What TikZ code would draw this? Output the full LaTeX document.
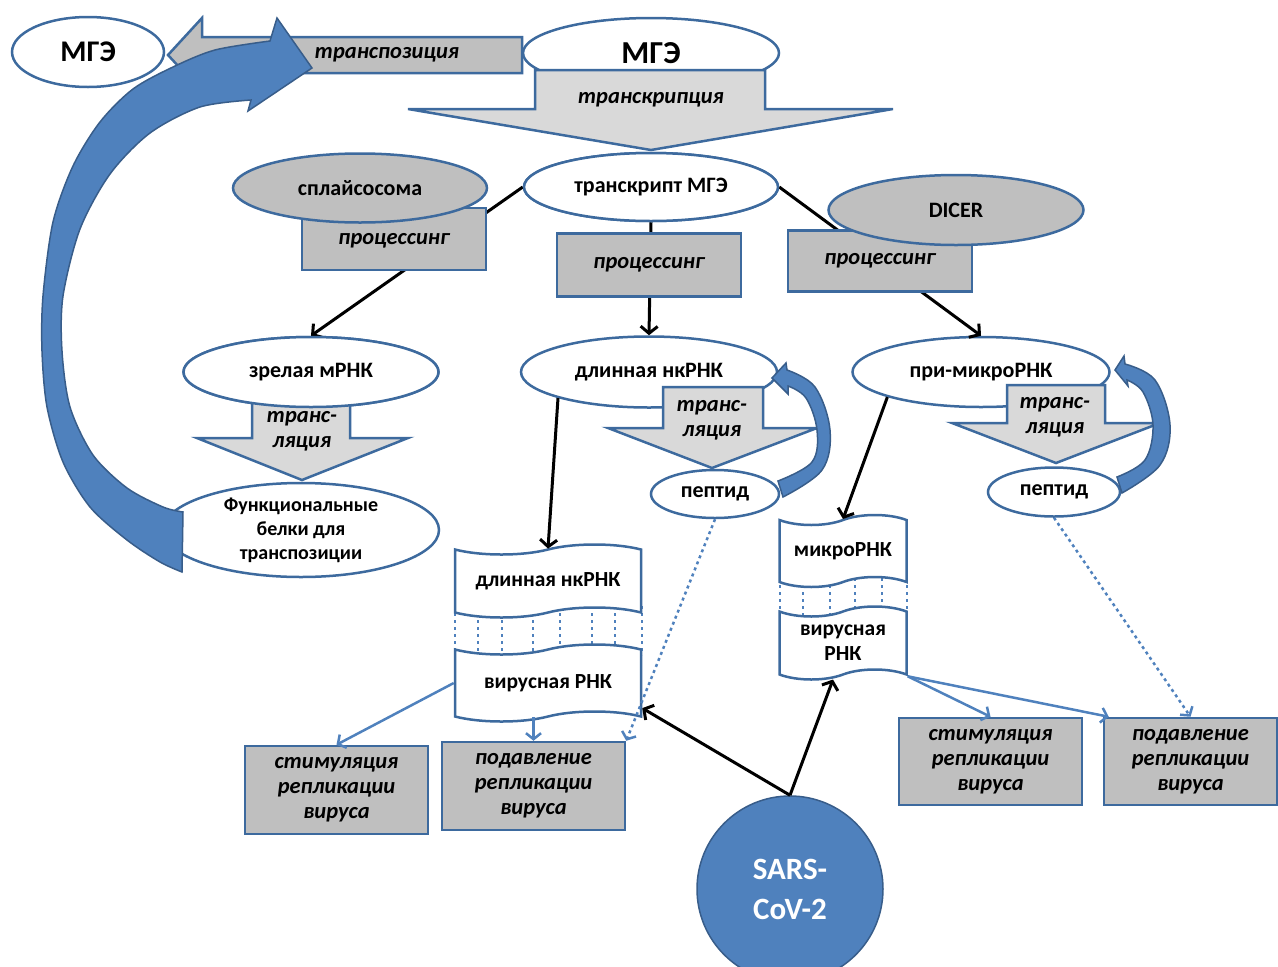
\documentclass[tikz,border=0pt]{standalone}
\usepackage{fontspec}
\setmainfont{Carlito}
\usetikzlibrary{shapes.geometric,shapes.symbols,arrows.meta,calc}
\definecolor{bord}{HTML}{3D6A9E}
\definecolor{bfill}{HTML}{4F81BD}
\definecolor{bdark}{HTML}{385D8A}
\definecolor{gdark}{HTML}{BFBFBF}
\definecolor{glight}{HTML}{D9D9D9}
\tikzset{
 ell/.style={ellipse, draw=bord, line width=2.5pt, fill=white, inner sep=0pt, align=center, font=\bfseries\fontsize{22}{24}\selectfont},
 gell/.style={ell, fill=gdark},
 gbox/.style={rectangle, draw=bord, line width=2.5pt, fill=gdark, inner sep=0pt, align=center, font=\bfseries\itshape\fontsize{22.5}{25}\selectfont},
 lbl/.style={inner sep=0pt, align=center, font=\bfseries\itshape\fontsize{22.5}{25}\selectfont},
 blockarrow/.style={draw=bord, line width=2.5pt, line join=miter},
 tapebox/.style={tape, draw=bord, fill=white, line width=2.5pt, tape bend height=10pt, inner sep=0pt, align=center, font=\bfseries\fontsize{21.5}{25}\selectfont},
 blk/.style={line width=3pt, black, -{Straight Barb[length=7pt,width=17pt]}},
 blu/.style={line width=2.5pt, bfill, -{Straight Barb[length=6pt,width=15pt]}},
 blud/.style={blu, dash pattern=on 3pt off 3.5pt},
 dots/.style={bfill, line width=2.5pt, dash pattern=on 3pt off 4pt},
 curvy/.style={fill=bfill, draw=bdark, line width=1.5pt, line join=miter},
}
\begin{document}
\begin{tikzpicture}[x=1pt,y=-1pt]
\useasboundingbox (0,0) rectangle (1278,967);

% connectors behind everything
\node[ell, minimum width=254pt, minimum height=68pt] (tr) at (651,187) {транскрипт МГЭ};
\node[ell, minimum width=255pt, minimum height=70pt] (zr) at (311,372) {};
\node[ell, minimum width=256pt, minimum height=71pt] (dl) at (649,372) {длинная нкРНК};
\node[ell, minimum width=257pt, minimum height=70pt] (pm) at (981,372) {при-микроРНК};
\draw[blk] (tr.west) -- (zr.north);
\draw[blk] (tr.east) -- (pm.north);
\draw[blk] (tr.south) -- (dl.north);

% processing boxes and enzymes
\node[gbox, minimum width=184pt, minimum height=62pt, text depth=-4pt] (pr1) at (394,239) {процессинг};
\node[gbox, minimum width=184pt, minimum height=63pt] (pr2) at (649,265) {процессинг};
\node[gbox, minimum width=184pt, minimum height=61pt] (pr3) at (880,261) {процессинг};
\node[gell, minimum width=254pt, minimum height=69pt] (spl) at (360,188) {сплайсосома};
\node[gell, minimum width=255pt, minimum height=70pt] (dicer) at (956,210) {DICER};

% top
\node[ell, minimum width=152pt, minimum height=70pt, font=\bfseries\fontsize{30}{32}\selectfont] (mge1) at (88,52) {МГЭ};
\node[ell, minimum width=256pt, minimum height=70pt, font=\bfseries\fontsize{32}{34}\selectfont] (mge2) at (651,53) {\raisebox{-3pt}{МГЭ}};
\draw[blockarrow, fill=gdark] (522,37) -- (202,37) -- (202,18) -- (168,55) -- (202,92) -- (202,73) -- (522,73) -- cycle;
\node[lbl] (tpos) at (387,55) {транспозиция};
\draw[blockarrow, fill=glight] (535,70) -- (765,70) -- (765,109) -- (893,109) -- (651,150) -- (408,109) -- (535,109) -- cycle;
\node[lbl] (tscr) at (651,100) {транскрипция};
\node[ell, minimum width=254pt, minimum height=68pt] at (tr) {транскрипт МГЭ};

% translation arrows
\draw[blockarrow, fill=glight] (252,400) -- (350,400) -- (350,438) -- (408,438) -- (302,480) -- (197,438) -- (252,438) -- cycle;
\node[ell, minimum width=255pt, minimum height=70pt] (zr2) at (zr) {зрелая мРНК};
\node[lbl] (tl1) at (302,431) {транс-\\ляция};
\draw[blockarrow, fill=glight] (663,387) -- (763,387) -- (763,428) -- (817,428) -- (712,468) -- (608,428) -- (663,428) -- cycle;
\node[lbl] (tl2) at (712,420) {транс-\\ляция};
\draw[blockarrow, fill=glight] (1007,385) -- (1105,385) -- (1105,423) -- (1160,423) -- (1056,463) -- (952,423) -- (1007,423) -- cycle;
\node[lbl] (tl3) at (1055,417) {транс-\\ляция};

\node[ell, minimum width=128pt, minimum height=48pt] (p1) at (715,494) {\raisebox{-3pt}{пептид}};
\node[ell, minimum width=132pt, minimum height=49pt] (p2) at (1054,492) {\raisebox{-3pt}{пептид}};
\node[ell, minimum width=276pt, minimum height=94pt, inner sep=-3pt, font=\bfseries\fontsize{20}{24}\selectfont] (fb) at (301,530) {Функциональные\\белки для\\транспозиции};

% blue curved arrows
\filldraw[curvy] plot[smooth, tension=0.5] coordinates {(182,572) (160,562) (127,540) (90,507) (63,462) (47,407) (42,351) (43,296) (53,222) (73,166) (100,122) (133,89) (173,67) (215,50) (270,41)} -- (277,18) -- (312,68) -- (248,111) -- plot[smooth, tension=0.5] coordinates {(251,100) (200,107) (150,133) (110,174) (80,229) (63,296) (62,351) (70,407) (93,455) (127,488) (163,507) (183,512)} -- cycle;
\filldraw[curvy] plot[smooth, tension=0.6] coordinates {(783,497) (822,470) (830,430) (815,387) (787,370)} -- (786,363) -- (772,378) -- (788,394) -- plot[smooth, tension=0.6] coordinates {(788,386) (806,398) (817,430) (812,462) (778,481)} -- cycle;
\filldraw[curvy] plot[smooth, tension=0.6] coordinates {(1122,493) (1160,465) (1170,425) (1155,380) (1125,364)} -- (1124,356) -- (1115,370) -- (1128,386) -- plot[smooth, tension=0.6] coordinates {(1127,380) (1143,392) (1153,425) (1145,460) (1117,477)} -- cycle;

% dotted links between tapes
\foreach \x in {455,478,502,533,560,592,615,642} \draw[dots] (\x,606) -- (\x,655);
\foreach \x in {780,803,830,855,882,907} \draw[dots] (\x,578) -- (\x,615);

% tapes
\node[tapebox, minimum width=186pt, minimum height=73pt] (t1) at (548,581) {длинная нкРНК};
\node[tapebox, minimum width=186pt, minimum height=77pt] (t2) at (548,683) {вирусная РНК};
\node[tapebox, minimum width=127pt, minimum height=72pt] (t3) at (843,551) {микроРНК};
\node[tapebox, minimum width=127pt, minimum height=73pt] (t4) at (843,643) {вирусная\\РНК};

\draw[blk] (dl.196) -- (t1.north);
\draw[blk] (pm.195) -- (t3.north);

% result boxes
\node[gbox, minimum width=183pt, minimum height=88pt] (r1) at (336.5,790) {стимуляция\\репликации\\вируса};
\node[gbox, minimum width=183pt, minimum height=88pt] (r2) at (533.5,786) {подавление\\репликации\\вируса};
\node[gbox, minimum width=183pt, minimum height=87pt] (r3) at (990.5,761.5) {стимуляция\\репликации\\вируса};
\node[gbox, minimum width=173pt, minimum height=87pt] (r4) at (1190.5,761.5) {подавление\\репликации\\вируса};

\draw[blu] (t2.west) -- (r1.north);
\draw[blu] (t2.south -| r2.north) -- (r2.north);
\draw[blu] (t4.south east) -- (r3.north);
\draw[blu] (t4.south east) -- ($(r4.north west)+(6,0)$);
\draw[blud] (p1.south) -- (r2.north east);
\draw[blud] (p2.south) -- (r4.north);

% SARS-CoV-2
\node[circle, fill=bfill, draw=bdark, line width=1.5pt, minimum size=186pt, inner sep=0pt, text=white, align=center, font=\bfseries\fontsize{31}{40}\selectfont] (sc) at (790,889) {SARS-\\CoV-2};
\draw[blk] (sc.north) -- ($(t2.south east)+(0,-10)$);
\draw[blk] (sc.north) -- ($(t4.south)+(-10,4)$);
\end{tikzpicture}
\end{document}
